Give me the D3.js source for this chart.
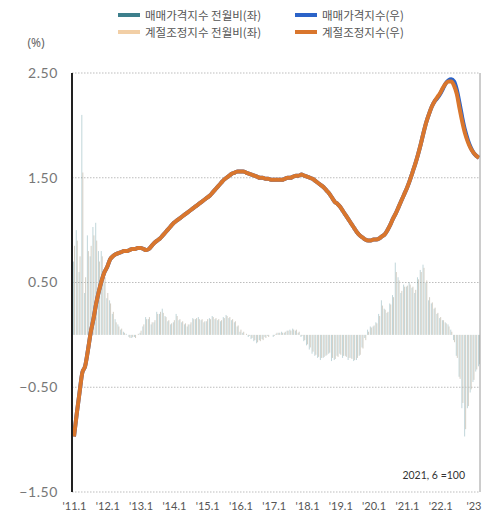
<!DOCTYPE html>
<html><head><meta charset="utf-8">
<script src="https://cdn.jsdelivr.net/npm/d3@7"></script>
<style>
body{margin:0;background:#fff;}
svg{display:block;font-family:"Noto Sans CJK KR","Noto Sans",sans-serif;}
</style></head>
<body><svg id="c" width="482" height="521"></svg>
<script>
// ---- data ----
const startYear = 2011;
const monthCount = 147; // 2011.1 ~ 2023.3
const xTickLabels = ["'11.1","'12.1","'13.1","'14.1","'15.1","'16.1","'17.1","'18.1","'19.1","'20.1","'21.1","'22.1","'23"];
const yTicks = [2.5, 1.5, 0.5, -0.5, -1.5];
const seriesNames = ["매매가격지수 전월비(좌)","매매가격지수(우)","계절조정지수 전월비(좌)","계절조정지수(우)"];

// 매매가격지수 전월비(좌)
const saleMoM = [
 0.70,1.00,0.60,2.10,0.40,0.95,0.75,1.03,1.07,0.80,0.80,0.50,
 0.35,0.33,0.20,0.15,0.10,0.05,0.03,0.01,-0.02,-0.03,-0.02,0.00,
 0.02,0.08,0.17,0.15,0.10,0.12,0.22,0.20,0.25,0.18,0.13,0.10,
 0.12,0.20,0.14,0.12,0.10,0.08,0.10,0.16,0.15,0.17,0.14,0.12,
 0.13,0.16,0.18,0.15,0.14,0.13,0.17,0.19,0.16,0.14,0.12,0.08,
 0.03,0.02,0.00,-0.02,-0.04,-0.06,-0.08,-0.05,-0.04,-0.02,-0.01,0.00,
 -0.02,0.01,0.02,0.03,0.02,0.04,0.05,0.06,0.04,0.02,-0.02,-0.06,
 -0.10,-0.14,-0.18,-0.20,-0.22,-0.24,-0.22,-0.20,-0.18,-0.25,-0.24,-0.20,
 -0.18,-0.22,-0.20,-0.24,-0.22,-0.25,-0.24,-0.20,-0.12,-0.03,0.05,0.08,
 0.08,0.12,0.20,0.33,0.25,0.21,0.30,0.38,0.69,0.55,0.40,0.48,
 0.46,0.50,0.45,0.40,0.55,0.62,0.67,0.50,0.33,0.30,0.25,0.20,
 0.16,0.14,0.12,0.10,0.05,-0.05,-0.20,-0.40,-0.70,-0.97,-0.70,-0.55,
 -0.45,-0.35,-0.30
];
// 계절조정지수 전월비(좌)
const saMoM = [
 0.85,0.90,0.75,1.55,0.55,0.80,0.85,0.95,0.90,0.70,0.75,0.55,
 0.40,0.30,0.22,0.12,0.08,0.06,0.02,0.00,-0.03,-0.02,-0.03,0.01,
 0.04,0.10,0.15,0.17,0.12,0.14,0.20,0.22,0.21,0.17,0.14,0.11,
 0.14,0.18,0.15,0.13,0.11,0.10,0.12,0.15,0.16,0.15,0.15,0.13,
 0.15,0.15,0.17,0.16,0.15,0.14,0.16,0.18,0.17,0.15,0.13,0.09,
 0.05,0.03,0.01,-0.01,-0.03,-0.05,-0.07,-0.06,-0.05,-0.03,-0.02,0.00,
 -0.01,0.02,0.02,0.02,0.03,0.04,0.04,0.05,0.05,0.03,-0.01,-0.05,
 -0.09,-0.12,-0.16,-0.19,-0.21,-0.22,-0.21,-0.19,-0.17,-0.22,-0.23,-0.21,
 -0.19,-0.20,-0.21,-0.22,-0.23,-0.24,-0.22,-0.19,-0.13,-0.05,0.03,0.07,
 0.09,0.11,0.18,0.28,0.24,0.22,0.29,0.36,0.60,0.52,0.42,0.46,
 0.47,0.48,0.46,0.43,0.53,0.60,0.64,0.52,0.36,0.31,0.26,0.21,
 0.17,0.14,0.11,0.08,0.03,-0.07,-0.22,-0.42,-0.65,-0.90,-0.68,-0.52,
 -0.43,-0.33,-0.28
];
// 매매가격지수(우) - drawn in left-axis units
const saleIndex = [
 -0.97,-0.75,-0.55,-0.36,-0.30,-0.15,0.02,0.15,0.30,0.42,0.52,0.60,
 0.65,0.72,0.75,0.77,0.78,0.79,0.80,0.80,0.81,0.82,0.82,0.83,
 0.83,0.82,0.81,0.82,0.85,0.88,0.90,0.92,0.95,0.98,1.01,1.04,
 1.07,1.09,1.11,1.13,1.15,1.17,1.19,1.21,1.23,1.25,1.27,1.29,
 1.31,1.33,1.36,1.39,1.42,1.45,1.48,1.50,1.52,1.54,1.55,1.56,
 1.56,1.56,1.55,1.54,1.53,1.52,1.51,1.50,1.50,1.49,1.49,1.48,
 1.48,1.48,1.48,1.48,1.49,1.50,1.50,1.51,1.52,1.52,1.53,1.52,
 1.51,1.50,1.49,1.47,1.45,1.43,1.41,1.38,1.35,1.31,1.27,1.25,
 1.22,1.18,1.14,1.10,1.06,1.02,0.98,0.95,0.93,0.91,0.90,0.90,
 0.91,0.91,0.92,0.94,0.96,1.00,1.05,1.11,1.16,1.22,1.28,1.34,
 1.40,1.47,1.55,1.63,1.72,1.82,1.93,2.03,2.11,2.18,2.23,2.26,
 2.30,2.35,2.40,2.43,2.44,2.42,2.34,2.21,2.07,1.95,1.86,1.79,
 1.74,1.71,1.69
];
// 계절조정지수(우) - drawn in left-axis units
const saIndex = [
 -0.97,-0.75,-0.55,-0.36,-0.30,-0.15,0.02,0.15,0.30,0.42,0.52,0.60,
 0.65,0.72,0.75,0.77,0.78,0.79,0.80,0.80,0.81,0.82,0.82,0.83,
 0.83,0.82,0.81,0.82,0.85,0.88,0.90,0.92,0.95,0.98,1.01,1.04,
 1.07,1.09,1.11,1.13,1.15,1.17,1.19,1.21,1.23,1.25,1.27,1.29,
 1.31,1.33,1.36,1.39,1.42,1.45,1.48,1.50,1.52,1.54,1.55,1.56,
 1.56,1.56,1.55,1.54,1.53,1.52,1.51,1.50,1.50,1.49,1.49,1.48,
 1.48,1.48,1.48,1.48,1.49,1.50,1.50,1.51,1.52,1.52,1.53,1.52,
 1.51,1.50,1.49,1.47,1.45,1.43,1.41,1.38,1.35,1.31,1.27,1.25,
 1.22,1.18,1.14,1.10,1.06,1.02,0.98,0.95,0.93,0.91,0.90,0.90,
 0.91,0.91,0.92,0.94,0.96,1.00,1.05,1.11,1.16,1.22,1.28,1.34,
 1.40,1.47,1.55,1.63,1.72,1.82,1.93,2.03,2.11,2.18,2.23,2.27,
 2.31,2.36,2.40,2.42,2.42,2.38,2.30,2.16,2.03,1.92,1.84,1.78,
 1.74,1.71,1.69
];
const note = "2021, 6 =100";

// categories
const months = d3.range(monthCount).map(i => `${startYear + Math.floor(i/12)}.${i%12+1}`);

// ---- chart ----
const svg = d3.select("#c");
const colors = {saleMoM:"#3d7f8c", saleIdx:"#2b63c8", saMoM:"#f2cfa6", saIdx:"#d9762d"};
const x = d3.scalePoint().domain(months).range([74, 479]);
const y = d3.scaleLinear().domain([-1.5, 2.5]).range([492, 73]);

// grid
svg.append("g").selectAll("line").data(yTicks).join("line")
  .attr("x1", 72).attr("x2", 480)
  .attr("y1", d => y(d)).attr("y2", d => y(d))
  .attr("stroke", "#bdbdbd").attr("stroke-width", 1.2).attr("stroke-dasharray", "1.5,1.5");

// bars
const bw = 1.0;
svg.append("g").selectAll("rect").data(saleMoM).join("rect")
  .attr("x", (d,i) => x(months[i]) - bw)
  .attr("width", bw)
  .attr("y", d => y(Math.max(0,d)))
  .attr("height", d => Math.abs(y(d) - y(0)))
  .attr("fill", colors.saleMoM).attr("opacity", 0.32);
svg.append("g").selectAll("rect").data(saMoM).join("rect")
  .attr("x", (d,i) => x(months[i]))
  .attr("width", bw)
  .attr("y", d => y(Math.max(0,d)))
  .attr("height", d => Math.abs(y(d) - y(0)))
  .attr("fill", "#c9c3b6").attr("opacity", 0.8);

// lines
const line = d3.line().x((d,i) => x(months[i])).y(d => y(d)).curve(d3.curveMonotoneX);
svg.append("path").datum(saleIndex).attr("d", line)
  .attr("fill","none").attr("stroke", colors.saleIdx).attr("stroke-width", 4);
svg.append("path").datum(saIndex).attr("d", line)
  .attr("fill","none").attr("stroke", colors.saIdx).attr("stroke-width", 4).attr("stroke-linejoin","round");

// axes lines
svg.append("line").attr("x1",72).attr("x2",72).attr("y1",y(2.5)).attr("y2",y(-1.5))
  .attr("stroke","#222").attr("stroke-width",2);
svg.append("line").attr("x1",480).attr("x2",480).attr("y1",y(2.5)).attr("y2",y(-1.5))
  .attr("stroke","#9a9a9a").attr("stroke-width",1);

// y labels
const yAxis = d3.axisLeft(y).tickValues(yTicks).tickFormat(d3.format(".2f")).tickSize(0).tickPadding(14);
const ya = svg.append("g").attr("transform","translate(72,0)").call(yAxis);
ya.select(".domain").remove();
ya.selectAll("text").attr("font-family","Lato, 'Noto Sans', sans-serif").attr("font-size",14)
  .attr("fill","#777").attr("letter-spacing","0.6px");

// x labels
const tickIdx = xTickLabels.map((d,i) => months[i*12]);
const xAxis = d3.axisBottom(x).tickValues(tickIdx).tickFormat((d,i) => xTickLabels[i]).tickSize(0).tickPadding(10);
const xa = svg.append("g").attr("transform", `translate(0,${y(-1.5)})`).call(xAxis);
xa.select(".domain").remove();
xa.selectAll("text").attr("font-family","Lato, 'Noto Sans', sans-serif").attr("font-size",11).attr("fill","#555");

// unit
svg.append("text").attr("x",36).attr("y",47).attr("text-anchor","middle")
  .attr("font-size",12).attr("fill","#666").attr("font-family","'Noto Sans', sans-serif").text("(%)");

// legend
const leg = [
  {name: seriesNames[0], c: colors.saleMoM, x:118, y:15},
  {name: seriesNames[1], c: colors.saleIdx, x:295, y:15},
  {name: seriesNames[2], c: colors.saMoM, x:118, y:32},
  {name: seriesNames[3], c: colors.saIdx, x:295, y:32}
];
const lg = svg.append("g").selectAll("g").data(leg).join("g")
  .attr("transform", d => `translate(${d.x},${d.y})`);
lg.append("rect").attr("x",0).attr("y",-2).attr("width",22).attr("height",4).attr("fill", d => d.c);
lg.append("text").attr("x",27).attr("y",4.5).attr("font-size",11.5).attr("fill","#555").text(d => d.name);

// note
svg.append("text").attr("x",465).attr("y",479).attr("text-anchor","end")
  .attr("font-size",10.5).attr("fill","#333").attr("font-family","Lato, 'Noto Sans', sans-serif").text(note);
</script>
</body></html>
